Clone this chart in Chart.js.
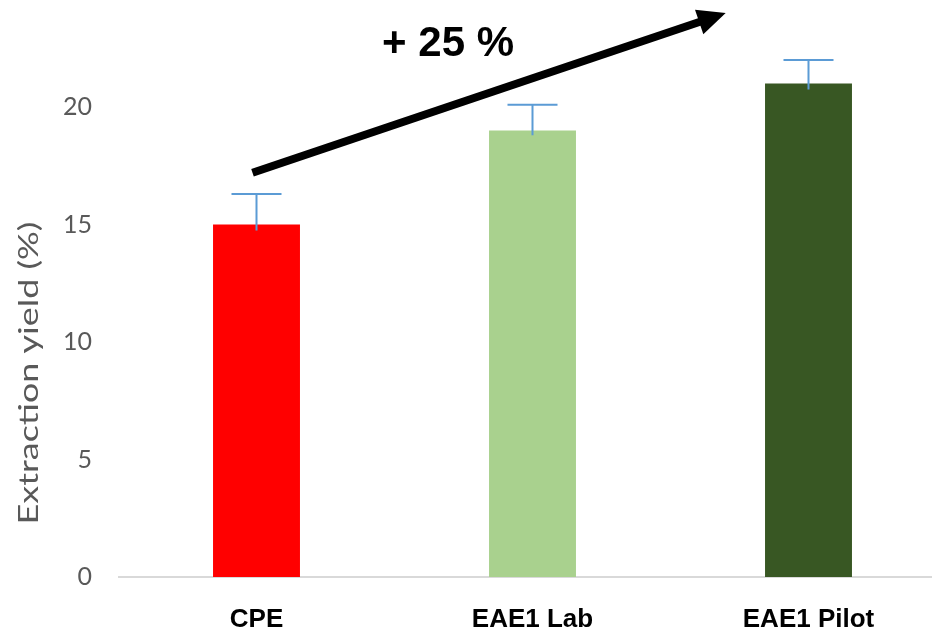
<!DOCTYPE html>
<html>
<head>
<meta charset="utf-8">
<script src="https://cdn.jsdelivr.net/npm/chart.js@4"></script>
<style>
  html, body { margin: 0; padding: 0; background: #fff; }
  #wrap { position: relative; width: 932px; height: 631px; overflow: hidden; }
  #box { position: absolute; left: 0; top: -52px; width: 960px; height: 692px; }
</style>
</head>
<body>
<div id="wrap"><div id="box"><canvas id="grafico" width="960" height="692"></canvas></div></div>
<script>
// dados
const categories = ["CPE", "EAE1 Lab", "EAE1 Pilot"];
const yieldValues = [15, 19, 21];
const errPlus = [1.3, 1.1, 1.0];
const errMinus = [0.25, 0.2, 0.25];
const barColors = ["#FF0000", "#A9D18E", "#385723"];
const yTicks = [0, 5, 10, 15, 20];
const yTitle = "Extraction yield (%)";
const arrowLabel = "+ 25 %";

// barras de erro (só tampa em cima)
const errorBars = {
  id: "errorBars",
  afterDatasetsDraw(chart) {
    const ctx = chart.ctx;
    const y = chart.scales.y;
    const meta = chart.getDatasetMeta(0);
    ctx.save();
    ctx.strokeStyle = "#5B9BD5";
    ctx.lineWidth = 2;
    meta.data.forEach((bar, i) => {
      const top = y.getPixelForValue(yieldValues[i] + errPlus[i]);
      const bot = y.getPixelForValue(yieldValues[i] - errMinus[i]);
      ctx.beginPath();
      ctx.moveTo(bar.x, bot);
      ctx.lineTo(bar.x, top);
      ctx.moveTo(bar.x - 25, top);
      ctx.lineTo(bar.x + 25, top);
      ctx.stroke();
    });
    ctx.restore();
  }
};

// seta + texto + título do eixo
const extras = {
  id: "extras",
  afterDraw(chart) {
    const ctx = chart.ctx;
    const x = chart.scales.x, y = chart.scales.y;
    const x0 = x.getPixelForValue(0) - 4, y0 = y.getPixelForValue(17.2);
    const x1 = x.getPixelForValue(1.7), y1 = y.getPixelForValue(24);
    const ang = Math.atan2(y1 - y0, x1 - x0);
    const headLen = 28, headW = 13;
    ctx.save();
    ctx.strokeStyle = "#000";
    ctx.fillStyle = "#000";
    ctx.lineWidth = 8;
    ctx.beginPath();
    ctx.moveTo(x0, y0);
    ctx.lineTo(x1 - Math.cos(ang) * headLen * 0.8, y1 - Math.sin(ang) * headLen * 0.8);
    ctx.stroke();
    const bx = x1 - Math.cos(ang) * headLen, by = y1 - Math.sin(ang) * headLen;
    ctx.beginPath();
    ctx.moveTo(x1, y1);
    ctx.lineTo(bx + Math.sin(ang) * headW, by - Math.cos(ang) * headW);
    ctx.lineTo(bx - Math.sin(ang) * headW, by + Math.cos(ang) * headW);
    ctx.closePath();
    ctx.fill();

    ctx.font = "bold 42px 'Liberation Sans', Arial, sans-serif";
    ctx.textAlign = "center";
    ctx.textBaseline = "middle";
    ctx.fillText(arrowLabel, x.getPixelForValue(0.694), y.getPixelForValue(22.68));

    // título do eixo y, esticado no comprimento como no original
    ctx.translate(29, 425);
    ctx.rotate(-Math.PI / 2);
    ctx.scale(1.33, 1);
    ctx.fillStyle = "#595959";
    ctx.font = "27px Lato, sans-serif";
    ctx.fillText(yTitle, 0, 0);
    ctx.restore();
  }
};

const ctx = document.getElementById("grafico").getContext("2d");
new Chart(ctx, {
  type: "bar",
  data: {
    labels: categories,
    datasets: [{
      data: yieldValues,
      backgroundColor: barColors,
      barPercentage: 0.315,
      categoryPercentage: 1
    }]
  },
  options: {
    responsive: false,
    animation: false,
    devicePixelRatio: 1,
    layout: { padding: { top: 9.5, right: 13.5, left: 0, bottom: 0 } },
    plugins: { legend: { display: false }, tooltip: { enabled: false } },
    scales: {
      x: {
        grid: { display: false, drawTicks: false },
        border: { color: "#D9D9D9", width: 2 },
        ticks: {
          color: "#000",
          padding: 27,
          font: { family: "'Liberation Sans', Arial, sans-serif", size: 26, weight: "bold" }
        },
        afterFit: s => { s.height = 63; }
      },
      y: {
        min: 0,
        max: 25,
        grid: { display: false, drawTicks: false },
        border: { display: false },
        ticks: {
          color: "#595959",
          padding: 26.5,
          font: { family: "Lato, sans-serif", size: 25 }
        },
        afterBuildTicks: s => { s.ticks = yTicks.map(v => ({ value: v })); },
        afterFit: s => { s.width = 118.5; }
      }
    }
  },
  plugins: [errorBars, extras]
});
</script>
</body>
</html>
